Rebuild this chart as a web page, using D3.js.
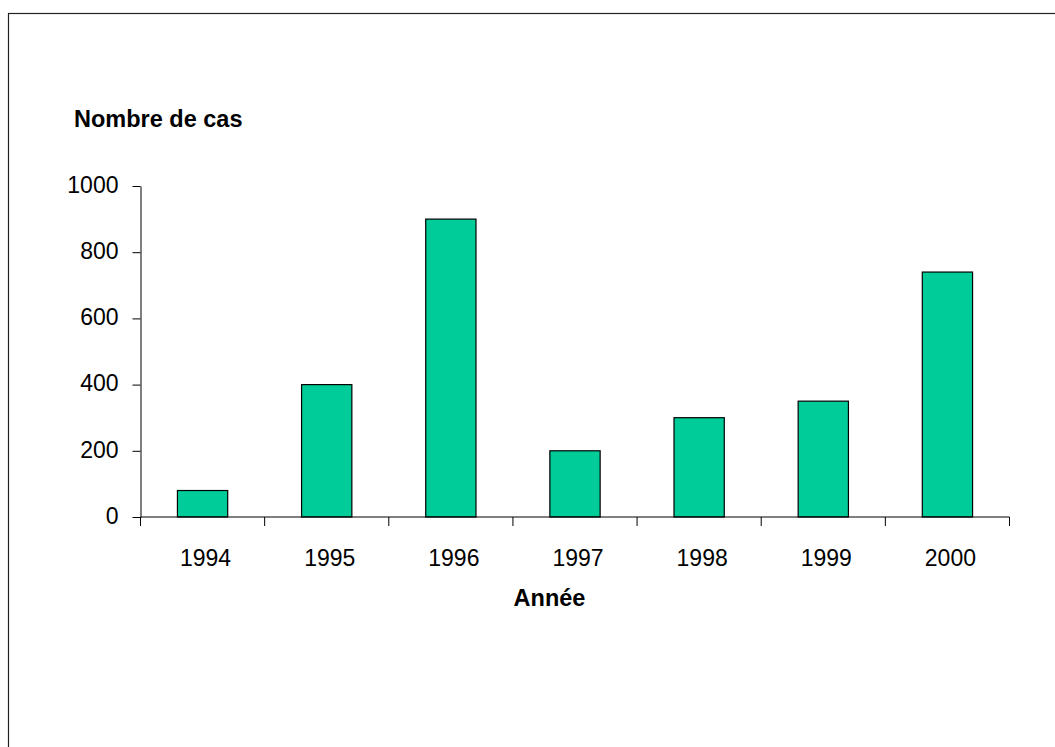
<!DOCTYPE html>
<html>
<head>
<meta charset="utf-8">
<script src="https://cdn.jsdelivr.net/npm/d3@7"></script>
<style>
  html, body { margin: 0; padding: 0; background: #fff; }
  svg { display: block; }
  text { font-family: Arial, "Liberation Sans", sans-serif; fill: #000; }
</style>
</head>
<body>
<svg id="chart" width="1055" height="747"></svg>
<script>
const years = ["1994", "1995", "1996", "1997", "1998", "1999", "2000"];
const cases = [80, 400, 900, 200, 300, 350, 740];
const yTicks = [0, 200, 400, 600, 800, 1000];
const yTitle = "Nombre de cas";
const xTitle = "Année";

const svg = d3.select("#chart");
const mLeft = 140.5, mRight = 1009.5, mTop = 186, mBottom = 517;

// outer frame
svg.append("rect")
  .attr("x", 8.5).attr("y", 13.5)
  .attr("width", 1200).attr("height", 900)
  .attr("fill", "none").attr("stroke", "#222").attr("stroke-width", 1.2);

const x = d3.scaleBand().domain(years).range([mLeft, mRight]).padding(0);
const y = d3.scaleLinear().domain([0, 1000]).range([mBottom, mTop]);

const barW = x.bandwidth() * 0.405;

svg.append("g").selectAll("rect")
  .data(years.map((d, i) => ({ year: d, value: cases[i] })))
  .join("rect")
  .attr("x", d => x(d.year) + (x.bandwidth() - barW) / 2)
  .attr("y", d => y(d.value))
  .attr("width", barW)
  .attr("height", d => y(0) - y(d.value))
  .attr("fill", "#00CC99")
  .attr("stroke", "#000")
  .attr("stroke-width", 1.2);

// Y axis
const yAxis = svg.append("g")
  .attr("transform", `translate(${mLeft},0)`)
  .call(d3.axisLeft(y).tickValues(yTicks).tickFormat(d3.format("d"))
    .tickSize(8).tickPadding(14).tickSizeOuter(0));
yAxis.select(".domain").attr("stroke", "#000");
yAxis.selectAll(".tick line").attr("stroke", "#000");
yAxis.selectAll(".tick text")
  .attr("font-size", "23px")
  .attr("font-family", "Arial, 'Liberation Sans', sans-serif")
  .attr("dy", "0.27em");

// X axis: ticks at band boundaries
const xAxis = svg.append("g").attr("transform", `translate(0,${mBottom})`);
xAxis.append("line")
  .attr("x1", mLeft).attr("x2", mRight)
  .attr("y1", 0).attr("y2", 0)
  .attr("stroke", "#000");
const bounds = years.map(d => x(d)).concat([x(years[years.length - 1]) + x.bandwidth()]);
xAxis.selectAll("line.tk").data(bounds).join("line")
  .attr("class", "tk")
  .attr("x1", d => d).attr("x2", d => d)
  .attr("y1", 0).attr("y2", 9)
  .attr("stroke", "#000");
xAxis.selectAll("text.lbl").data(years).join("text")
  .attr("class", "lbl")
  .attr("x", d => x(d) + x.bandwidth() / 2 + 3)
  .attr("y", 49)
  .attr("text-anchor", "middle")
  .attr("font-size", "23px")
  .text(d => d);

// Titles
svg.append("text")
  .attr("x", 74).attr("y", 127)
  .attr("font-size", "23.5px").attr("font-weight", "bold")
  .text(yTitle);
svg.append("text")
  .attr("x", 549.5).attr("y", 606)
  .attr("text-anchor", "middle")
  .attr("font-size", "23.5px").attr("font-weight", "bold")
  .text(xTitle);
</script>
</body>
</html>
